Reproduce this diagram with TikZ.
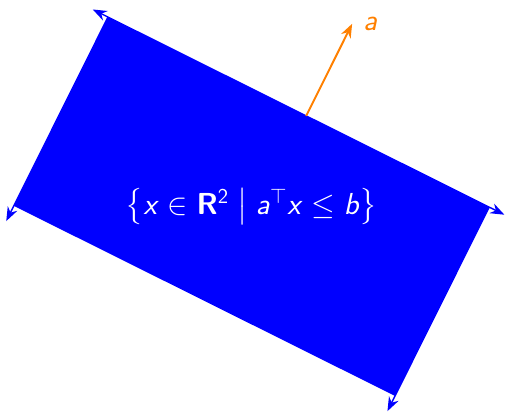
\documentclass[tikz,border=0pt]{standalone}
\usepackage{amsmath}
\usepackage{amssymb}
\usetikzlibrary{arrows.meta,calc}
% sans serif math letters
\SetSymbolFont{operators}{normal}{OT1}{cmss}{m}{n}
\SetSymbolFont{letters}{normal}{OT1}{cmss}{m}{it}
\SetMathAlphabet{\mathbf}{normal}{OT1}{cmss}{bx}{n}

\begin{document}
\begin{tikzpicture}[scale=1]
\useasboundingbox (0,0) rectangle (10.14,-8.26);
\begin{scope}[shift={(5.03,-4.13)},rotate=-26.5]
\coordinate (tl) at (-4.26,2.11);
\coordinate (tr) at (4.26,2.11);
\coordinate (br) at (4.26,-2.11);
\coordinate (bl) at (-4.26,-2.11);
\fill[blue] (tl)--(tr)--(br)--(bl)--cycle; % halfspace

\draw[blue,thick,{Stealth[length=8pt,width=6pt]}-{Stealth[length=8pt,width=6pt]}]
  ($(tl)!-0.34cm!(tr)$)--($(tr)!-0.34cm!(tl)$);
\draw[blue,thick,-{Stealth[length=8pt,width=6pt]}] (tl)--($(bl)!-0.34cm!(tl)$);
\draw[blue,thick,-{Stealth[length=8pt,width=6pt]}] (tr)--($(br)!-0.34cm!(tr)$);

\coordinate (mid) at ($(tl)!0.52!(tr)$);
\coordinate (tip) at ($(mid)+(90:2.06)$);
\draw[orange,line width=1.1pt,-{Stealth[length=8pt,width=6pt]}] (mid)--(tip);
\node[orange,right,xshift=3pt] (lbl) at (tip) {\LARGE$a$};

\node[white] (set) at (0,0)
  {\LARGE$\left\{x\in\mathbf{R}^2 \;\middle|\; a^\top x\le b\right\}$};
\end{scope}
\end{tikzpicture}
\end{document}
